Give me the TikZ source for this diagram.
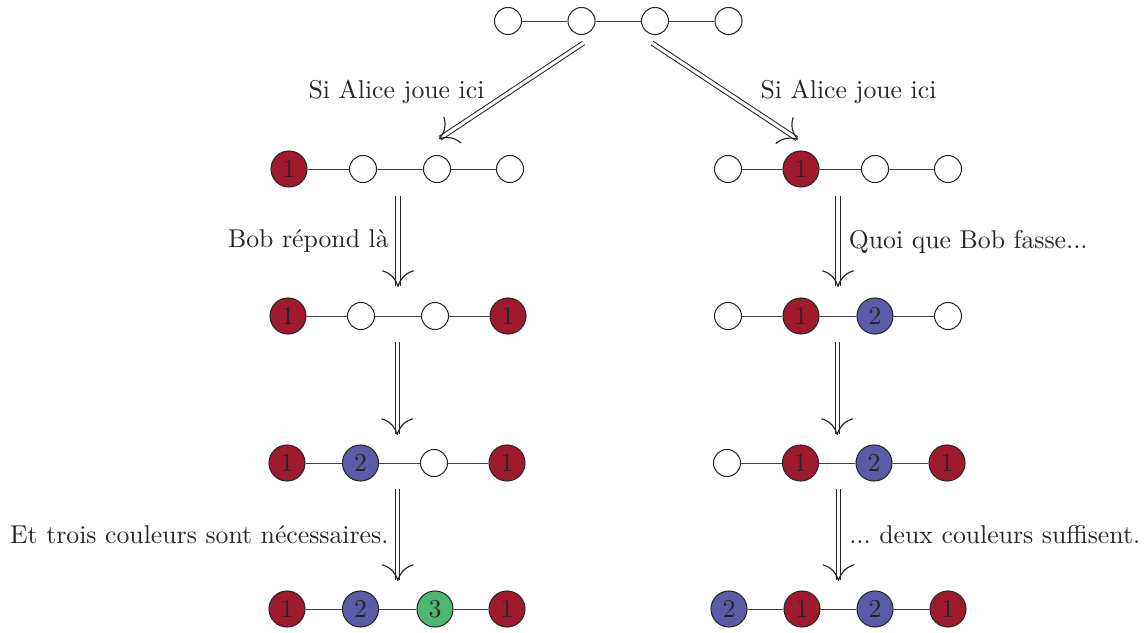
\documentclass[tikz,border=0pt]{standalone}
\usetikzlibrary{arrows.meta,calc}
\definecolor{cred}{HTML}{9E1A2C}
\definecolor{cblue}{HTML}{5B5BA8}
\definecolor{cgreen}{HTML}{4DB870}
\begin{document}
\begin{tikzpicture}[x=0.3884pt,y=-0.3884pt,
 vtx/.style={circle,draw=black!85,fill=white,minimum size=10.5pt,inner sep=0pt},
 col/.style={circle,draw=black!85,fill=#1,minimum size=14pt,inner sep=0pt,text=black!85},
 edge/.style={draw=black!75,line width=0.35pt},
 imp/.style={draw=black!85,double,double distance=1.2pt,-{Computer Modern Rightarrow[length=6.5pt,width=12.4pt,line width'=0.45pt]}},
 lbl/.style={inner sep=0pt,text=black!85}]
\useasboundingbox (0,0) rectangle (1146,632);
% row 1
\node[vtx] (t1) at (508,21) {};
\node[vtx] (t2) at (581.5,21) {};
\node[vtx] (t3) at (655,21) {};
\node[vtx] (t4) at (728.5,21) {};
% row 2
\node[col=cred] (a1) at (289,169) {1};
\node[vtx] (a2) at (363,169) {};
\node[vtx] (a3) at (437,169) {};
\node[vtx] (a4) at (510,169) {};
\node[vtx] (b1) at (728,169) {};
\node[col=cred] (b2) at (801,169) {1};
\node[vtx] (b3) at (875,169) {};
\node[vtx] (b4) at (948,169) {};
% row 3
\node[col=cred] (c1) at (288,316) {1};
\node[vtx] (c2) at (361,316) {};
\node[vtx] (c3) at (435,316) {};
\node[col=cred] (c4) at (508,316) {1};
\node[vtx] (d1) at (728,316) {};
\node[col=cred] (d2) at (801,316) {1};
\node[col=cblue] (d3) at (875,316) {2};
\node[vtx] (d4) at (948,316) {};
% row 4
\node[col=cred] (e1) at (287,463) {1};
\node[col=cblue] (e2) at (360.5,463) {2};
\node[vtx] (e3) at (434,463) {};
\node[col=cred] (e4) at (507,463) {1};
\node[vtx] (f1) at (727,463) {};
\node[col=cred] (f2) at (800.5,463) {1};
\node[col=cblue] (f3) at (874,463) {2};
\node[col=cred] (f4) at (947,463) {1};
% row 5
\node[col=cred] (g1) at (287,609) {1};
\node[col=cblue] (g2) at (360.5,609) {2};
\node[col=cgreen] (g3) at (435,609) {3};
\node[col=cred] (g4) at (507,609) {1};
\node[col=cblue] (h1) at (729,609) {2};
\node[col=cred] (h2) at (802,609) {1};
\node[col=cblue] (h3) at (875,609) {2};
\node[col=cred] (h4) at (948,609) {1};
% edges
\draw[edge] (t1)--(t2)--(t3)--(t4);
\draw[edge] (a1)--(a2)--(a3)--(a4);
\draw[edge] (b1)--(b2)--(b3)--(b4);
\draw[edge] (c1)--(c2)--(c3)--(c4);
\draw[edge] (d1)--(d2)--(d3)--(d4);
\draw[edge] (e1)--(e2)--(e3)--(e4);
\draw[edge] (f1)--(f2)--(f3)--(f4);
\draw[edge] (g1)--(g2)--(g3)--(g4);
\draw[edge] (h1)--(h2)--(h3)--(h4);
% top arrows
\draw[imp] ($(t2.south)+(2,8)$) -- ($(a3.north)+(2,-16)$);
\draw[imp] ($(t3.south)+(-3,8)$) -- ($(b2.north)+(-3,-11)$);
\node[lbl,anchor=east] (la) at (485,92) {Si Alice joue ici};
\node[lbl,anchor=west] (ra) at (760,92) {Si Alice joue ici};
% vertical arrows
\draw[imp] ($(c2)!0.5!(c3)+(0,-120)$) -- ($(c2)!0.5!(c3)+(0,-29)$) node[lbl,midway,left=3.4pt] {Bob répond là};
\draw[imp] ($(d2)!0.5!(d3)+(0,-120)$) -- ($(d2)!0.5!(d3)+(0,-29)$) node[lbl,midway,right=4pt] {Quoi que Bob fasse...};
\draw[imp] ($(e2)!0.5!(e3)+(0,-121)$) -- ($(e2)!0.5!(e3)+(0,-28)$);
\draw[imp] ($(f2)!0.5!(f3)+(0,-121)$) -- ($(f2)!0.5!(f3)+(0,-28)$);
\draw[imp] ($(g2)!0.5!(g3)+(0,-120)$) -- ($(g2)!0.5!(g3)+(0,-28)$) node[lbl,midway,left=3.4pt] {Et trois couleurs sont nécessaires.};
\draw[imp] ($(h2)!0.5!(h3)+(0,-120)$) -- ($(h2)!0.5!(h3)+(0,-28)$) node[lbl,midway,right=4pt] {...\ deux couleurs suffisent.};
\end{tikzpicture}
\end{document}
